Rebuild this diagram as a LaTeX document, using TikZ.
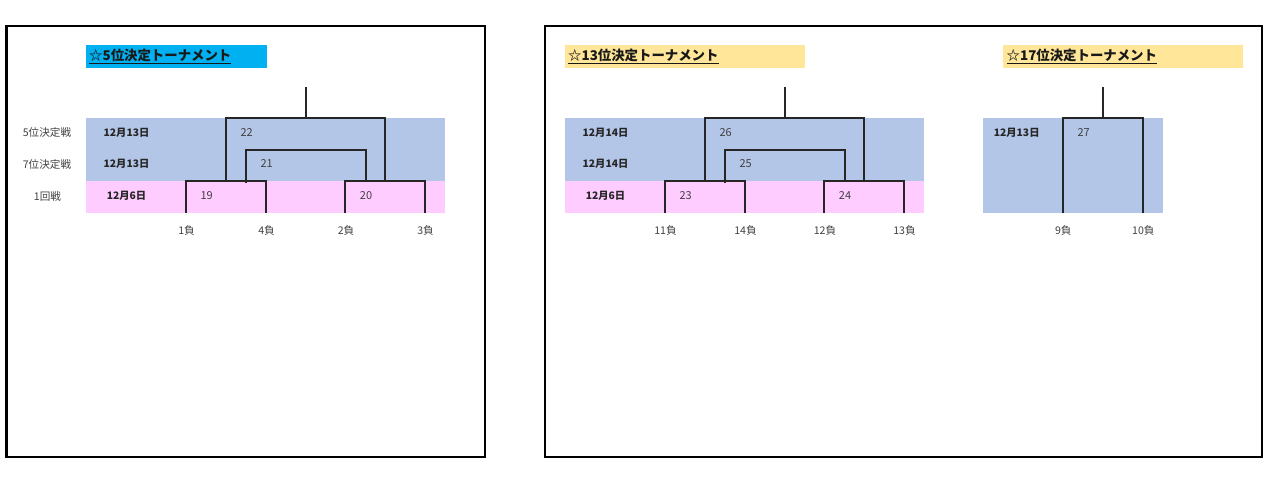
\documentclass[tikz,border=0pt]{standalone}
\usepackage{fontspec}
\setmainfont{Noto Sans CJK JP}
\definecolor{blueband}{HTML}{B4C6E7}
\definecolor{pinkband}{HTML}{FFCCFF}
\definecolor{cyanbox}{HTML}{00B0F0}
\definecolor{yellowbox}{HTML}{FFE699}
\definecolor{txtgray}{HTML}{404040}
\begin{document}
\begin{tikzpicture}[x=1pt,y=-1pt,
  frame/.style={draw=black,line width=2.5pt},
  br/.style={draw=black!85,line width=2pt},
  lbl/.style={font=\fontsize{10.6}{12}\selectfont,text=txtgray,inner sep=0pt},
  num/.style={font=\fontsize{11}{12}\selectfont,text=txtgray,inner sep=0pt},
  datelbl/.style={font=\bfseries\fontsize{10.3}{12}\selectfont,text=black!85,inner sep=0pt},
  ttl/.style={font=\bfseries\fontsize{13.4}{15}\selectfont,anchor=west,inner sep=0pt,text=black!90}
]
\useasboundingbox (0,0) rectangle (1280,492);
% frames
\draw[frame] (6.5,26) rectangle (485,457);
\draw[frame] (545,26) rectangle (1262,457);

% ===== left panel =====
\fill[cyanbox] (86,45) rectangle (266.5,68);
\node[ttl] (t1) at (89,56) {\underline{☆5位決定トーナメント}};
\fill[blueband] (86,118) rectangle (445,181);
\fill[pinkband] (86,181) rectangle (445,213);
\node[lbl] (r1) at (47,132.7) {5位決定戦};
\node[lbl] (r2) at (47,164) {7位決定戦};
\node[lbl] (r3) at (47.5,196) {1回戦};
\node[datelbl] (d1) at (126.5,132.7) {12月13日};
\node[datelbl] (d2) at (126.5,164) {12月13日};
\node[datelbl] (d3) at (126.5,196) {12月6日};
\node[lbl] (p1) at (186.5,230.7) {1負};
\node[lbl] (p4) at (266.5,230.7) {4負};
\node[lbl] (p2) at (346,230.7) {2負};
\node[lbl] (p3) at (425.5,230.7) {3負};
\coordinate (a1) at (186,213); \coordinate (a4) at (266,213);
\coordinate (a2) at (345,213); \coordinate (a3) at (425,213);
\coordinate (m19) at (226,181); \coordinate (m19b) at (246,183);
\coordinate (m20) at (366,181); \coordinate (m20b) at (385,181);
\coordinate (m21) at (306,150); \coordinate (m22) at (306,118);
\coordinate (w) at (306,87);
\draw[br] (a1) -- ++(0,-32) -- ++(80,0) -- (a4);
\draw[br] (a2) -- ++(0,-32) -- ++(80,0) -- (a3);
\draw[br] (m19b) |- (m21) -| (m20);
\draw[br] (m19) |- (m22) -| (m20b);
\draw[br] (w) -- (m22);
\node[num] (n22) at (246.7,132.7) {22};
\node[num] (n21) at (266.7,164) {21};
\node[num] (n19) at (206.7,196) {19};
\node[num] (n20) at (366,196) {20};

% ===== middle panel =====
\begin{scope}[xshift=479pt]
\fill[yellowbox] (86,45) rectangle (325.7,68);
\node[ttl] (t2) at (89,56) {\underline{☆13位決定トーナメント}};
\fill[blueband] (86,118) rectangle (445,181);
\fill[pinkband] (86,181) rectangle (445,213);
\node[datelbl] (e1) at (126.5,132.7) {12月14日};
\node[datelbl] (e2) at (126.5,164) {12月14日};
\node[datelbl] (e3) at (126.5,196) {12月6日};
\node[lbl] (q11) at (186.5,230.7) {11負};
\node[lbl] (q14) at (266.5,230.7) {14負};
\node[lbl] (q12) at (346,230.7) {12負};
\node[lbl] (q13) at (425.5,230.7) {13負};
\coordinate (b1) at (186,213); \coordinate (b4) at (266,213);
\coordinate (b2) at (345,213); \coordinate (b3) at (425,213);
\coordinate (k23) at (226,181); \coordinate (k23b) at (246,183);
\coordinate (k24) at (366,181); \coordinate (k24b) at (385,181);
\coordinate (k25) at (306,150); \coordinate (k26) at (306,118);
\coordinate (v) at (306,87);
\draw[br] (b1) -- ++(0,-32) -- ++(80,0) -- (b4);
\draw[br] (b2) -- ++(0,-32) -- ++(80,0) -- (b3);
\draw[br] (k23b) |- (k25) -| (k24);
\draw[br] (k23) |- (k26) -| (k24b);
\draw[br] (v) -- (k26);
\node[num] (n26) at (246.7,132.7) {26};
\node[num] (n25) at (266.7,164) {25};
\node[num] (n23) at (206.7,196) {23};
\node[num] (n24) at (366,196) {24};
\end{scope}

% ===== right panel =====
\fill[yellowbox] (1003.3,45) rectangle (1242.7,68);
\node[ttl] (t3) at (1006.5,56) {\underline{☆17位決定トーナメント}};
\fill[blueband] (983.3,118) rectangle (1163.3,213);
\node[datelbl] (f1) at (1016.7,132.7) {12月13日};
\node[lbl] (s9) at (1063.3,230.7) {9負};
\node[lbl] (s10) at (1143.3,230.7) {10負};
\coordinate (c9) at (1063,213); \coordinate (c10) at (1143,213);
\coordinate (k27) at (1103,118); \coordinate (u) at (1103,87);
\draw[br] (c9) |- (k27) -| (c10);
\draw[br] (u) -- (k27);
\node[num] (n27) at (1083.7,132.7) {27};
\end{tikzpicture}
\end{document}
